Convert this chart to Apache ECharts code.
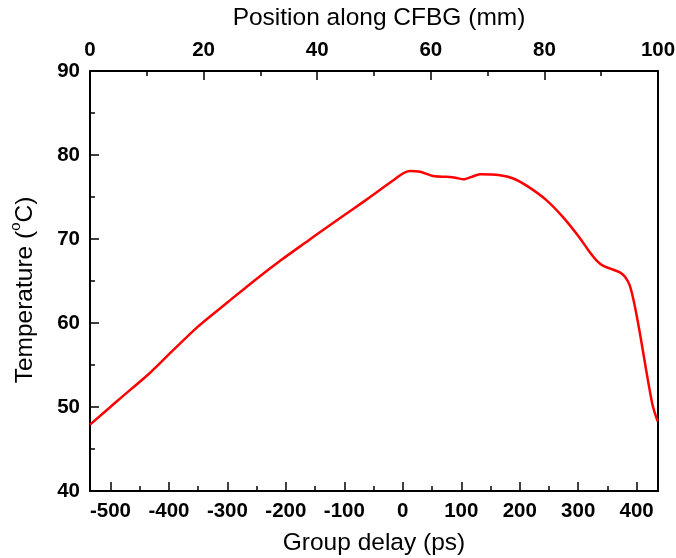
<!DOCTYPE html>
<html>
<head>
<meta charset="utf-8">
<script src="https://cdn.jsdelivr.net/npm/echarts@6/dist/echarts.min.js"></script>
<style>
html,body{margin:0;padding:0;background:#fff;}
#chart{width:676px;height:558px;}
</style>
</head>
<body>
<div id="chart"></div>
<script>
// Group delay (ps) values
var groupDelay = [-535, -487, -435, -401, -350, -299, -253, -208, -162, -140, -101, -70, -44, -16, 0, 12, 30, 52, 75, 90, 104, 118, 132, 166, 189, 215, 246, 274, 303, 317, 332, 343, 354, 372, 380, 388, 396, 405, 416, 427, 436];
// Temperature (°C) values
var temperature = [47.9, 50.8, 53.9, 56.2, 59.6, 62.5, 65.1, 67.5, 69.8, 70.9, 72.8, 74.3, 75.6, 77.0, 77.8, 78.1, 78.0, 77.5, 77.4, 77.3, 77.1, 77.4, 77.7, 77.6, 77.2, 76.2, 74.6, 72.6, 70.1, 68.7, 67.4, 66.8, 66.5, 66.0, 65.5, 64.5, 62.3, 59.0, 54.5, 50.3, 48.3];
var bottomMajorTicks = [-500, -400, -300, -200, -100, 0, 100, 200, 300, 400];
var bottomMinorTicks = [-450, -350, -250, -150, -50, 50, 150, 250, 350];
var xMin = -535, xMax = 436.5;

var data = groupDelay.map(function (x, i) { return [x, temperature[i]]; });
var font = 'Liberation Sans, Arial, sans-serif';
var chart = echarts.init(document.getElementById('chart'));
chart.setOption({
  animation: false,
  grid: { left: 90, right: 18, top: 71, bottom: 67, containLabel: false, outerBoundsMode: 'none' },
  xAxis: [
    {
      type: 'value', position: 'bottom', min: xMin, max: xMax,
      name: 'Group delay (ps)', nameLocation: 'middle', nameGap: 40, nameMoveOverlap: false,
      nameTextStyle: { fontFamily: font, fontSize: 24.5, color: '#000' },
      axisLine: { show: true, onZero: false, lineStyle: { color: '#000', width: 2 } },
      axisTick: { show: true, inside: true, length: 9, customValues: bottomMajorTicks, lineStyle: { color: '#000', width: 1.5 } },
      axisLabel: { show: true, customValues: bottomMajorTicks, margin: 10, fontFamily: font, fontSize: 20.5, fontWeight: 'bold', color: '#000' },
      splitLine: { show: false }
    },
    {
      type: 'value', position: 'bottom', min: xMin, max: xMax,
      axisLine: { show: false, onZero: false },
      axisTick: { show: true, inside: true, length: 5, customValues: bottomMinorTicks, lineStyle: { color: '#000', width: 1.5 } },
      axisLabel: { show: false },
      splitLine: { show: false }
    },
    {
      type: 'value', position: 'top', min: 0, max: 100, interval: 20,
      name: 'Position along CFBG (mm)', nameLocation: 'middle', nameGap: 40, nameMoveOverlap: false,
      nameTextStyle: { fontFamily: font, fontSize: 24.5, color: '#000', padding: [0, 0, 0, 10] },
      axisLine: { show: true, onZero: false, lineStyle: { color: '#000', width: 2 } },
      axisTick: { show: true, inside: true, length: 9, lineStyle: { color: '#000', width: 1.5 } },
      minorTick: { show: true, splitNumber: 2, length: 5, lineStyle: { color: '#000', width: 1.5 } },
      axisLabel: { show: true, margin: 10, fontFamily: font, fontSize: 20.5, fontWeight: 'bold', color: '#000' },
      splitLine: { show: false }
    }
  ],
  yAxis: [
    {
      type: 'value', min: 40, max: 90, interval: 10, position: 'left',
      name: '{a|Temperature (}{s|o}{a|C)}', nameLocation: 'middle', nameGap: 52, nameRotate: 90, nameMoveOverlap: false,
      nameTextStyle: { color: '#000', padding: [0, 18, 0, 0], rich: {
        a: { fontFamily: font, fontSize: 24.5, color: '#000', lineHeight: 30, verticalAlign: 'bottom' },
        s: { fontFamily: font, fontSize: 15, color: '#000', lineHeight: 30, verticalAlign: 'top' }
      } },
      axisLine: { show: true, onZero: false, lineStyle: { color: '#000', width: 2 } },
      axisTick: { show: true, inside: true, length: 9, lineStyle: { color: '#000', width: 1.5 } },
      minorTick: { show: true, splitNumber: 2, length: 5, lineStyle: { color: '#000', width: 1.5 } },
      axisLabel: { show: true, margin: 10, fontFamily: font, fontSize: 20.5, fontWeight: 'bold', color: '#000' },
      splitLine: { show: false }
    },
    {
      type: 'value', min: 40, max: 90, position: 'right',
      axisLine: { show: true, onZero: false, lineStyle: { color: '#000', width: 2 } },
      axisTick: { show: false }, axisLabel: { show: false }, splitLine: { show: false }
    }
  ],
  series: [{
    type: 'line', xAxisIndex: 0, yAxisIndex: 0, data: data,
    smooth: 0.25, symbol: 'none',
    lineStyle: { color: '#ff0000', width: 2.5 }
  }]
});
</script>
</body>
</html>
